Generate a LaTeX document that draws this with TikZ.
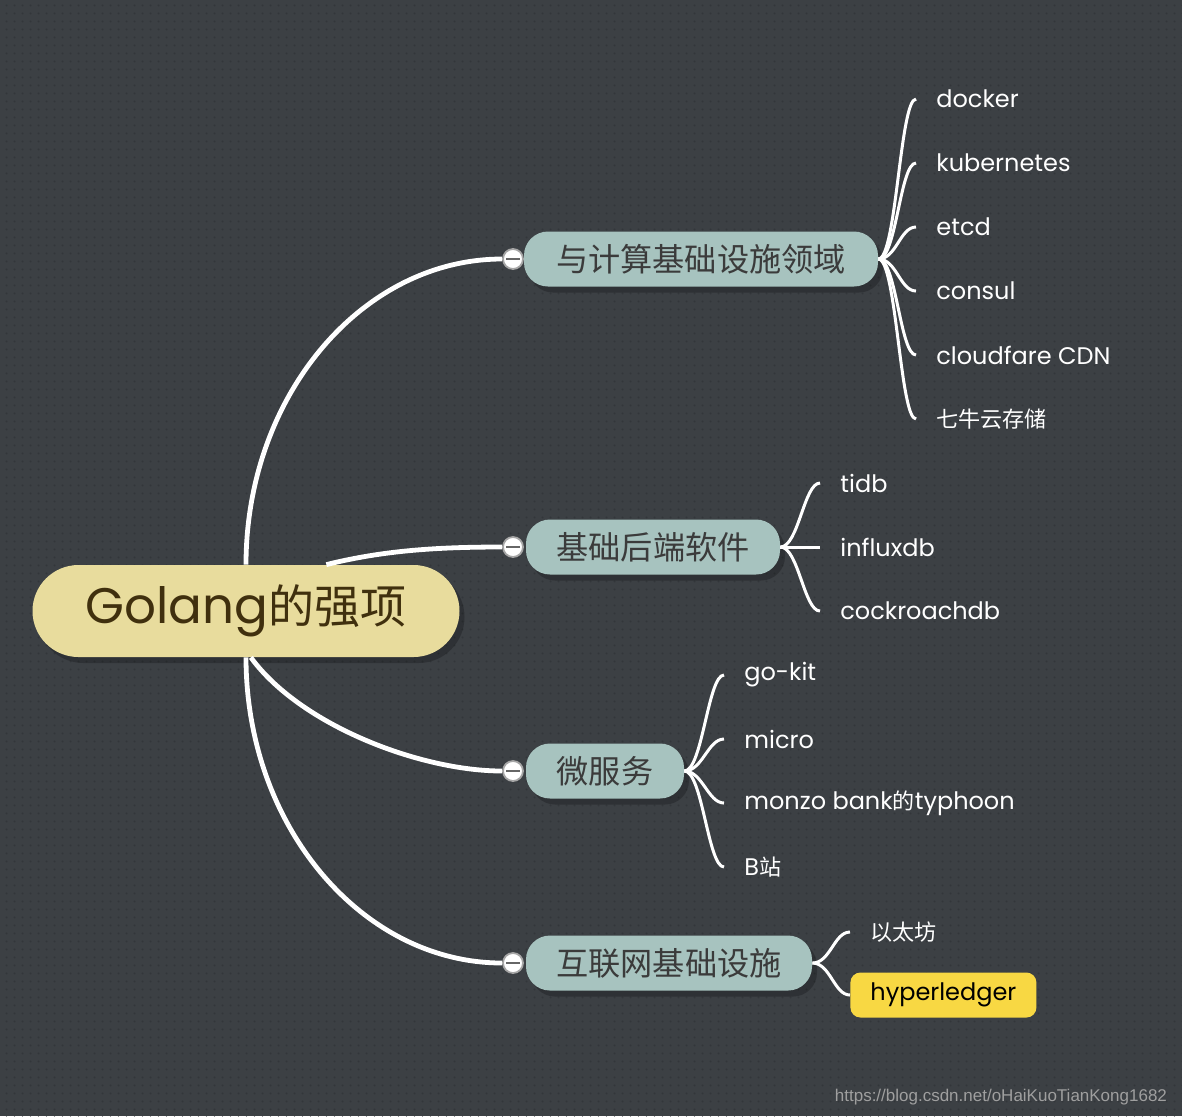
\documentclass[tikz,border=0pt]{standalone}
\usepackage{fontspec}
\setmainfont{Poppins}
\newfontfamily\cjk{Noto Sans CJK SC}[Scale=0.92]
\newfontfamily\wmfont{Liberation Sans}
\usetikzlibrary{shadows,patterns.meta,calc}
\definecolor{bgcol}{HTML}{3C4044}
\definecolor{dotcol}{HTML}{33363A}
\definecolor{rootfill}{HTML}{E8DC9D}
\definecolor{roottext}{HTML}{40300E}
\definecolor{topicfill}{HTML}{A7C3BF}
\definecolor{topictext}{HTML}{3B3B3B}
\definecolor{hlfill}{HTML}{F8D843}
\tikzset{
    x=0.5pt, y=-0.5pt,
    shade/.style={drop shadow={shadow xshift=2.5pt, shadow yshift=-3pt, fill=black, opacity=0.22}},
    root/.style={rectangle, rounded corners=23pt, fill=rootfill, text=roottext, shade,
        minimum width=213.5pt, minimum height=46pt, font=\fontsize{25}{30}\selectfont},
    topic/.style={rectangle, rounded corners=12pt, fill=topicfill, text=topictext, shade,
        minimum height=27.5pt, font=\cjk\fontsize{17.5}{21}\selectfont},
    leaf/.style={anchor=west, inner xsep=10pt, inner ysep=3pt, text=white,
        font=\fontsize{12}{15}\selectfont},
    marked/.style={fill=hlfill, text=black, rounded corners=5pt, minimum height=22.5pt},
    fold/.style={circle, fill=white, draw=gray!70, line width=0.9pt, minimum size=10pt, inner sep=0pt,
        path picture={\draw[line width=1.2pt, gray!80!black]
            ($(path picture bounding box.center)+(-3.5pt,0)$) -- ($(path picture bounding box.center)+(3.5pt,0)$);}},
    limb/.style={draw=white, line width=2.4pt},
    twig/.style={draw=white, line width=1.5pt, to path={.. controls +(18,0) and +(-16,0) .. (\tikztotarget)}}
}

\begin{document}
\begin{tikzpicture}

    % background with dot grid
    \fill[bgcol] (0,0) rectangle (1182,1116);
    \fill[pattern={Dots[distance=4pt, radius=0.6pt]}, pattern color=dotcol] (0,0) rectangle (1182,1116);
    \useasboundingbox (0,0) rectangle (1182,1116);

    \node[root] (root) at (246,611) {Golang{\cjk 的强项}};

    % main topics
    \node[topic, minimum width=177pt] (cloud) at (701,259) {与计算基础设施领域};
    \node[topic, minimum width=127pt] (backend) at (653,547) {基础后端软件};
    \node[topic, minimum width=79pt] (micro) at (605,771) {微服务};
    \node[topic, minimum width=143pt] (net) at (669,963) {互联网基础设施};

    \node[fold] (f1) at (513,259) {};
    \node[fold] (f2) at (513,547) {};
    \node[fold] (f3) at (513,771) {};
    \node[fold] (f4) at (513,963) {};

    \draw[limb] (root.north) .. controls (246,396) and (362,259) .. (f1.west);
    \draw[limb] (root.30) .. controls (385,550) and (440,547) .. (f2.west);
    \draw[limb] (root.-84) .. controls (300,725) and (420,771) .. (f3.west);
    \draw[limb] (root.south) .. controls (246,826) and (362,963) .. (f4.west);

    % leaves of first topic
    \node[leaf] (docker) at (916,99) {docker};
    \node[leaf] (k8s) at (916,163) {kubernetes};
    \node[leaf] (etcd) at (916,227) {etcd};
    \node[leaf] (consul) at (916,291) {consul};
    \node[leaf] (cdn) at (916,355) {cloudfare CDN};
    \node[leaf] (qiniu) at (916,419) {\cjk 七牛云存储};
    \foreach \n in {docker,k8s,etcd,consul,cdn,qiniu}
        \path (cloud.east) edge[twig] (\n.west);

    % leaves of second topic
    \node[leaf] (tidb) at (820,483) {tidb};
    \node[leaf] (influx) at (820,547) {influxdb};
    \node[leaf] (roach) at (820,611) {cockroachdb};
    \foreach \n in {tidb,influx,roach}
        \path (backend.east) edge[twig] (\n.west);

    % leaves of third topic
    \node[leaf] (gokit) at (724,675) {go-kit};
    \node[leaf] (gomicro) at (724,739) {micro};
    \node[leaf] (monzo) at (724,803) {monzo bank{\cjk 的}typhoon};
    \node[leaf] (bili) at (724,867) {B{\cjk 站}};
    \foreach \n in {gokit,gomicro,monzo,bili}
        \path (micro.east) edge[twig] (\n.west);

    % leaves of fourth topic
    \node[leaf] (eth) at (850,932) {\cjk 以太坊};
    \node[leaf, marked, minimum width=91.5pt] (hyper) at (850,995) {hyperledger};
    \foreach \n in {eth,hyper}
        \path (net.east) edge[twig] (\n.west);

    \node[anchor=east, text=gray!75, font=\wmfont\fontsize{8.5}{10}\selectfont] (mark) at (1174,1097)
        {https://blog.csdn.net/oHaiKuoTianKong1682};

\end{tikzpicture}
\end{document}
